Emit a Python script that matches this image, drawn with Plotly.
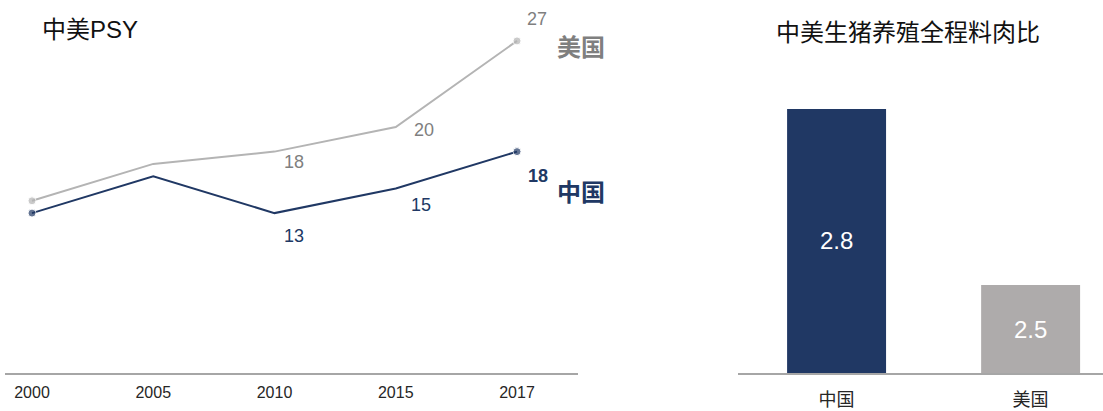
import plotly.graph_objects as go

# ---- data ----
years = ["2000", "2005", "2010", "2015", "2017"]
psy_china = [13, 16, 13, 15, 18]
psy_us = [14, 17, 18, 20, 27]
bar_cats = ["中国", "美国"]
feed_ratio = [2.8, 2.5]

title_left = "中美PSY"
title_right = "中美生猪养殖全程料肉比"

NAVY = "#203864"
GRAY_LINE = "#b4b4b4"
GRAY_TEXT = "#7f7f7f"
GRAY_BAR = "#aeabab"
AXIS_COL = "#a6a6a6"
FONT = "Liberation Sans, Arial, Noto Sans CJK SC, sans-serif"
CJK = "Noto Sans CJK SC, Liberation Sans, sans-serif"

W, H = 1103, 411
def px_y(y):
    return (H - y) / H

fig = go.Figure()

# line chart
fig.add_trace(go.Scatter(
    x=years, y=psy_us, mode="lines+markers",
    line=dict(color=GRAY_LINE, width=2),
    marker=dict(color=GRAY_LINE, size=[8, 0, 0, 0, 8]),
    xaxis="x", yaxis="y", showlegend=False, hoverinfo="x+y"))
fig.add_trace(go.Scatter(
    x=years, y=psy_china, mode="lines+markers",
    line=dict(color=NAVY, width=2),
    marker=dict(color=NAVY, size=[8, 0, 0, 0, 8]),
    xaxis="x", yaxis="y", showlegend=False, hoverinfo="x+y"))

# bar chart
BAR_MIN = 2.35
fig.add_trace(go.Bar(
    x=bar_cats, y=feed_ratio, marker=dict(color=[NAVY, GRAY_BAR], line=dict(width=0)),
    width=0.51, xaxis="x2", yaxis="y2", showlegend=False))

ann = []
# value labels on lines (category index, shifts, bold)
us_lab = [(2, 19, -10, False), (3, 28, -3, False), (4, 20, 22, False)]
cn_lab = [(2, 19, -23, False), (3, 25, -16, False), (4, 21, -24, True)]
for i, dx, dy, b in us_lab:
    ann.append(dict(x=i, y=psy_us[i], xref="x", yref="y", text=str(psy_us[i]),
                    showarrow=False, xshift=dx, yshift=dy,
                    font=dict(family=FONT, size=18, color=GRAY_TEXT)))
for i, dx, dy, b in cn_lab:
    t = f"<b>{psy_china[i]}</b>" if b else str(psy_china[i])
    ann.append(dict(x=i, y=psy_china[i], xref="x", yref="y", text=t,
                    showarrow=False, xshift=dx, yshift=dy,
                    font=dict(family=FONT, size=18, color=NAVY)))
# series names
last = len(years) - 1
ann.append(dict(x=last, y=psy_us[-1], xref="x", yref="y", text="<b>美国</b>",
                showarrow=False, xanchor="left", xshift=38, yshift=-5,
                font=dict(family=CJK, size=24, color=GRAY_TEXT)))
ann.append(dict(x=last, y=psy_china[-1], xref="x", yref="y", text="<b>中国</b>",
                showarrow=False, xanchor="left", xshift=38, yshift=-39,
                font=dict(family=CJK, size=24, color=NAVY)))
# bar labels
for c, v in zip(bar_cats, feed_ratio):
    ann.append(dict(x=c, y=(BAR_MIN + v) / 2, xref="x2", yref="y2", text=f"{v}",
                    showarrow=False, font=dict(family=FONT, size=24, color="white")))
# titles
ann.append(dict(x=40 / W, y=px_y(29), xref="paper", yref="paper", text=title_left,
                xanchor="left", yanchor="middle", showarrow=False,
                font=dict(family=FONT, size=24, color="#111111")))
ann.append(dict(x=908 / W, y=px_y(30), xref="paper", yref="paper", text=title_right,
                xanchor="center", yanchor="middle", showarrow=False,
                font=dict(family=CJK, size=24, color="#111111")))

y_bot = px_y(373)
y_top = px_y(20)

fig.update_layout(
    width=W, height=H,
    margin=dict(l=0, r=0, t=0, b=0, autoexpand=False),
    paper_bgcolor="white", plot_bgcolor="white",
    annotations=ann,
    xaxis=dict(domain=[5 / W, 578 / W], type="category", range=[-0.2227, 4.503],
               showline=True, linecolor=AXIS_COL, linewidth=1.5, showgrid=False,
               ticks="", ticklabelstandoff=4, automargin=False,
               tickfont=dict(family=FONT, size=16, color="#262626"), anchor="y"),
    yaxis=dict(domain=[y_bot, y_top], range=[0, 28.7], visible=False, anchor="x",
               automargin=False),
    xaxis2=dict(domain=[738 / W, 1.0], type="category", range=[-0.508, 1.373],
                showline=True, linecolor=AXIS_COL, linewidth=1.5, showgrid=False,
                ticks="", ticklabelstandoff=10, automargin=False,
                tickfont=dict(family=CJK, size=18, color="#262626"), anchor="y2"),
    yaxis2=dict(domain=[y_bot, y_top], range=[BAR_MIN, BAR_MIN + 353 / 586.7],
                visible=False, anchor="x2", automargin=False),
)

fig.write_html("out.html")
